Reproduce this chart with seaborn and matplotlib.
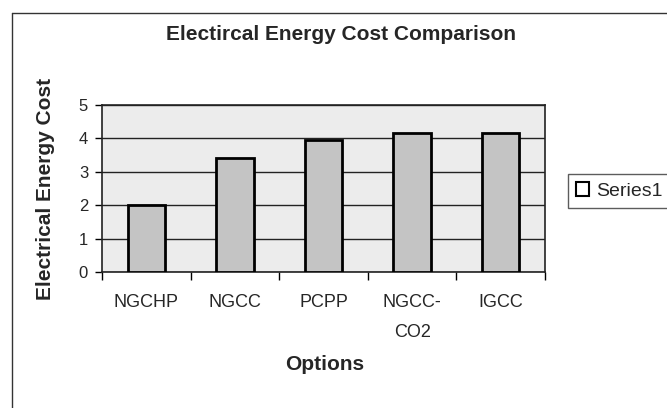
import matplotlib
matplotlib.use('Agg')
import matplotlib.pyplot as plt
from matplotlib.patches import Patch
from matplotlib.lines import Line2D
import seaborn as sns
import numpy as np

options = ['NGCHP', 'NGCC', 'PCPP', 'NGCC-\nCO2', 'IGCC']
costs = [2.0, 3.42, 3.95, 4.17, 4.15]
series_name = 'Series1'

sns.set_style('white')
plt.rcParams['font.family'] = ['Liberation Sans', 'DejaVu Sans']

W, H = 667, 408
fig = plt.figure(figsize=(W / 100, H / 100), dpi=100)
ax = fig.add_axes([102 / W, 1 - 272 / H, 443 / W, 167 / H])
ax.set_facecolor('#ececec')

sns.barplot(x=options, y=costs, color='#c4c4c4', width=0.42,
            edgecolor='black', linewidth=2, saturation=1, ax=ax, zorder=3)

ax.set_xlim(-0.5, 4.5)
ax.set_ylim(0, 5)
ax.set_yticks(range(6))
ax.tick_params(axis='y', which='major', direction='out', length=5, width=1,
               color='black', left=True, pad=5, labelsize=12)

# Excel style: ticks between categories, labels centred under the bars
ax.set_xticks(np.arange(-0.5, 5, 1))
ax.set_xticklabels([''] * 6)
ax.set_xticks(range(len(options)), minor=True)
ax.set_xticklabels(options, minor=True, fontsize=13, linespacing=1.95)
ax.tick_params(axis='x', which='major', direction='out', length=6, width=1,
               color='black', bottom=True)
ax.tick_params(axis='x', which='minor', length=0, pad=16)

ax.yaxis.grid(True, color='#222222', lw=1)
ax.set_axisbelow(True)
for s in ax.spines.values():
    s.set_color('#222222')
    s.set_linewidth(1.2)

ax.set_ylabel('Electrical Energy Cost', fontsize=15, fontweight='bold')
ax.yaxis.set_label_coords(-0.106, 0.5)
ax.set_xlabel('Options', fontsize=15, fontweight='bold')
ax.xaxis.set_label_coords(0.503, -0.5)

fig.text(341 / W, 1 - 34 / H, 'Electircal Energy Cost Comparison',
         ha='center', va='center', fontsize=15, fontweight='bold')

handle = Patch(facecolor='white', edgecolor='black', linewidth=1.5, label=series_name)
fig.legend(handles=[handle], loc='center left',
           bbox_to_anchor=(568 / W, 1 - 191 / H), fontsize=14,
           frameon=True, fancybox=False, edgecolor='#333333',
           handlelength=0.7, handleheight=0.7, handletextpad=0.35,
           borderpad=0.4, borderaxespad=0)

# chart area border (cropped at right and bottom in the scan)
fig.add_artist(Line2D([11.5 / W, 11.5 / W], [0, 1 - 12.8 / H], color='#333333', lw=1))
fig.add_artist(Line2D([11.5 / W, 1], [1 - 12.8 / H, 1 - 12.8 / H], color='#333333', lw=1))

fig.savefig('out.png', dpi=100)
